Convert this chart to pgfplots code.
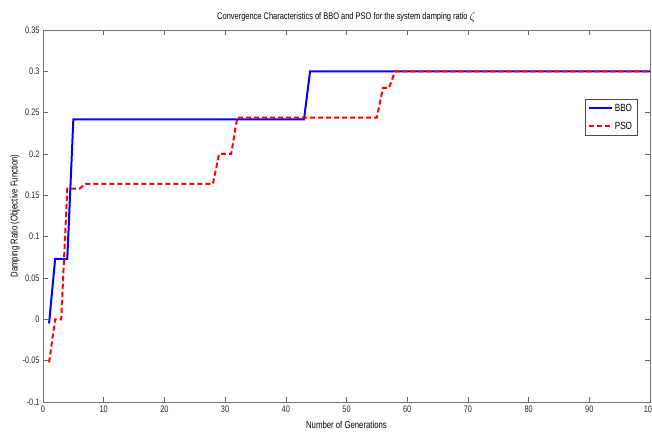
\documentclass[border=0pt]{standalone}
\usepackage{pgfplots}
\pgfplotsset{compat=1.18}
\usepackage{fontspec}
\setmainfont{Liberation Sans}[FakeStretch=0.78]
\begin{document}
\begin{tikzpicture}
\begin{axis}[
  name=ax,
  scale only axis,
  width=607bp, height=372bp,
  xmin=0, xmax=100, ymin=-0.1, ymax=0.35,
  xtick={0,10,...,100},
  ytick={-0.1,-0.05,0,0.05,0.1,0.15,0.2,0.25,0.3,0.35},
  yticklabels={-0.1,-0.05,0,0.05,0.1,0.15,0.2,0.25,0.3,0.35},
  tick align=inside,
  major tick length=5bp,
  axis line style={black!55, line width=0.8pt},
  tick style={black!60, line width=0.6pt},
  every tick label/.append style={font=\fontsize{9.5}{10}\selectfont, text=black!85},
  /pgf/number format/assume math mode=true,
  xlabel={Number of Generations},
  ylabel={Damping Ratio (Objective Function)},
  xlabel style={font=\fontsize{10}{11}\selectfont, yshift=-2bp},
  ylabel style={font=\fontsize{10}{11}\selectfont, yshift=-4bp},
  title={Convergence Characteristics of BBO and PSO for the system damping ratio \raisebox{-1bp}{\fontsize{13}{13}\selectfont$\zeta$}},
  title style={font=\fontsize{9.6}{11}\selectfont, yshift=-2bp},
  legend style={at={(rel axis cs:0.979,0.815)}, anchor=north east, draw=black!70, font=\fontsize{10.5}{11}\selectfont, inner sep=3bp, row sep=5bp},
  legend cell align=left,
  legend image code/.code={\draw[mark repeat=2,mark phase=2,#1] plot coordinates {(0cm,0cm) (0.4cm,0cm) (0.8cm,0cm)};},
  legend image post style={line width=2bp},
]
\addplot[blue, line width=2bp] coordinates {
(1,-0.005) (2,0.073) (4,0.073) (5,0.242) (43,0.242) (44,0.3) (100,0.3)};
\addlegendentry{BBO}
\addplot[red, line width=2bp, dash pattern=on 5bp off 3bp] coordinates {
(1,-0.052) (2,0) (3,0) (4,0.158) (6,0.158) (7,0.164) (28,0.164) (29,0.2) (31,0.2) (32,0.244) (55,0.244) (56,0.28) (57,0.28) (58,0.3) (100,0.3)};
\addlegendentry{PSO}
\end{axis}
\pgfresetboundingbox
\useasboundingbox ([xshift=-43bp,yshift=-30bp]ax.south west) rectangle ([xshift=2bp,yshift=30bp]ax.north east);
\end{tikzpicture}
\end{document}
